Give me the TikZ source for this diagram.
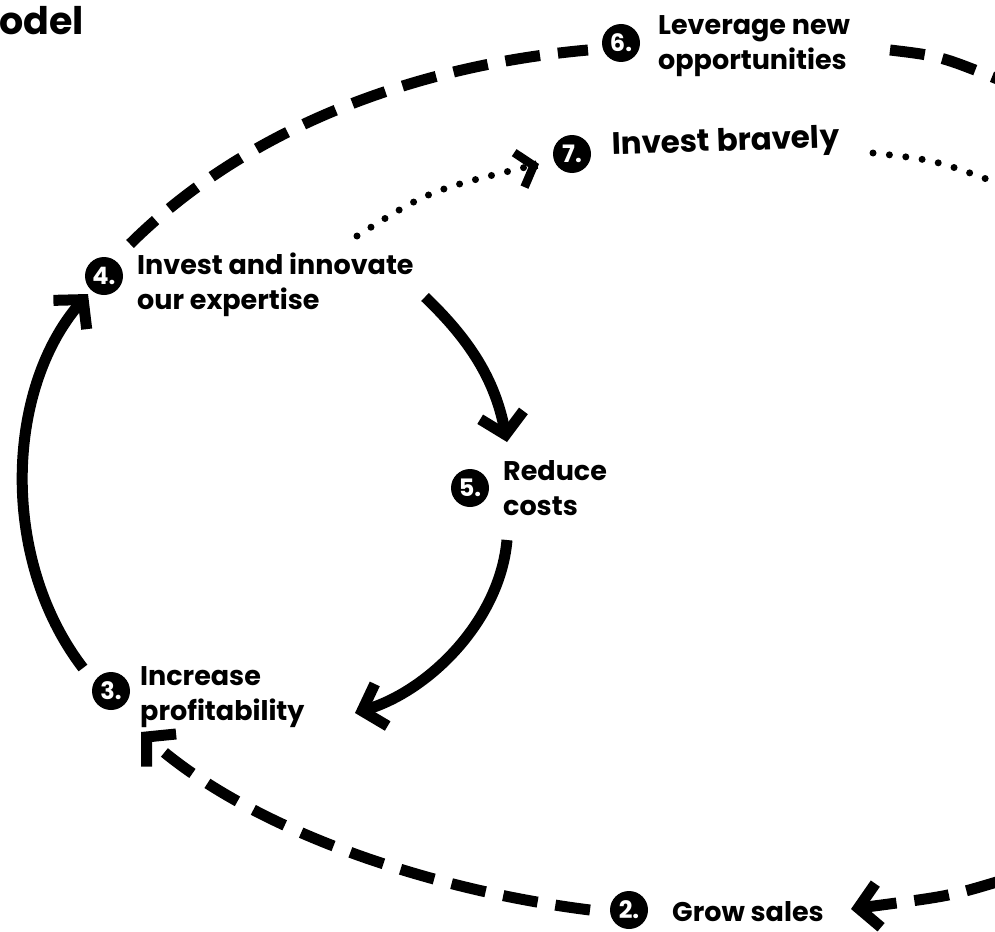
\documentclass[tikz,border=0pt]{standalone}
\usepackage{fontspec}
\setmainfont{Poppins}
\usetikzlibrary{arrows.meta}

\tikzset{
	num/.style={circle, fill=black, text=white, minimum size=38pt, inner sep=0pt, font=\fontsize{24}{24}\selectfont\bfseries},
	lbl/.style={align=left, anchor=base west, inner sep=0pt, font=\fontsize{27}{35}\selectfont\bfseries},
	tip/.style={-{Straight Barb[length=20pt,width=44pt]}},
	flow/.style={line width=11pt, tip},
	loop/.style={line width=11pt, dash pattern=on 35pt off 18pt},
	dots/.style={line width=7pt, line cap=round, dash pattern=on 0pt off 16.5pt}
}

\begin{document}
\begin{tikzpicture}[x=1pt,y=-1pt]
			\useasboundingbox (0,0) rectangle (995,931);
			\clip (0,0) rectangle (995,931);

			\node[anchor=base east, inner sep=0pt, font=\fontsize{38}{38}\selectfont\bfseries] (ttl) at (84,35) {odel};

			\node[num] (n6) at (621,43) {6.};
			\node[lbl] (t6) at (658,70) {Leverage new\\opportunities};
			\node[num] (n7) at (572,154) {7.};
			\node[lbl, font=\fontsize{31}{35}\selectfont\bfseries, rotate=2] (t7) at (612,155) {Invest bravely};
			\node[num] (n4) at (104,276) {4.};
			\node[lbl] (t4) at (137,309) {Invest and innovate\\our expertise};
			\node[num] (n5) at (470,488) {5.};
			\node[lbl] (t5) at (503,515) {Reduce\\costs};
			\node[num] (n3) at (111,691) {3.};
			\node[lbl] (t3) at (140,720) {Increase\\profitability};
			\node[num] (n2) at (629,910) {2.};
			\node[lbl] (t2) at (672,921) {Grow sales};

			\coordinate (a3) at (83,668);
			\coordinate (b4) at (88,294);
			\coordinate (a4) at (425,297);
			\coordinate (b5) at (507,442);
			\coordinate (a5) at (507,540);
			\coordinate (b3) at (355,713);
			\coordinate (a2) at (590,910);
			\coordinate (b3d) at (141,732);
			\coordinate (r2) at (1000,881);
			\coordinate (b2) at (851,909);
			\coordinate (a4d) at (130,244);
			\coordinate (b6) at (588,50);
			\coordinate (a6) at (890,50);
			\coordinate (r6) at (1000,80);
			\coordinate (a4p) at (357,236);
			\coordinate (b7) at (539,164);
			\coordinate (a7) at (873,153);
			\coordinate (r7) at (1000,184);

			\draw[flow] (a3) .. controls (0,560) and (5,390) .. (b4);
			\draw[flow] (a4) .. controls (470,340) and (495,380) .. (b5);
			\draw[flow] (a5) .. controls (500,620) and (430,690) .. (b3);

			\draw[loop, tip] (a2) .. controls (430,890) and (250,830) .. (b3d);
			\draw[loop, tip] (r2) .. controls (950,896) .. (b2);
			\draw[loop] (a4d) .. controls (250,125) and (420,65) .. (b6);
			\draw[loop] (a6) .. controls (940,56) .. (r6);

			\draw[dots] (a4p) .. controls (430,190) .. (b7);
			\draw[line width=8.5pt, -{Straight Barb[length=15pt,width=36pt]}] ([shift={(-2,0.6)}]b7) -- (b7);
			\draw[dots] (a7) .. controls (935,160) .. (r7);
		\end{tikzpicture}
\end{document}
